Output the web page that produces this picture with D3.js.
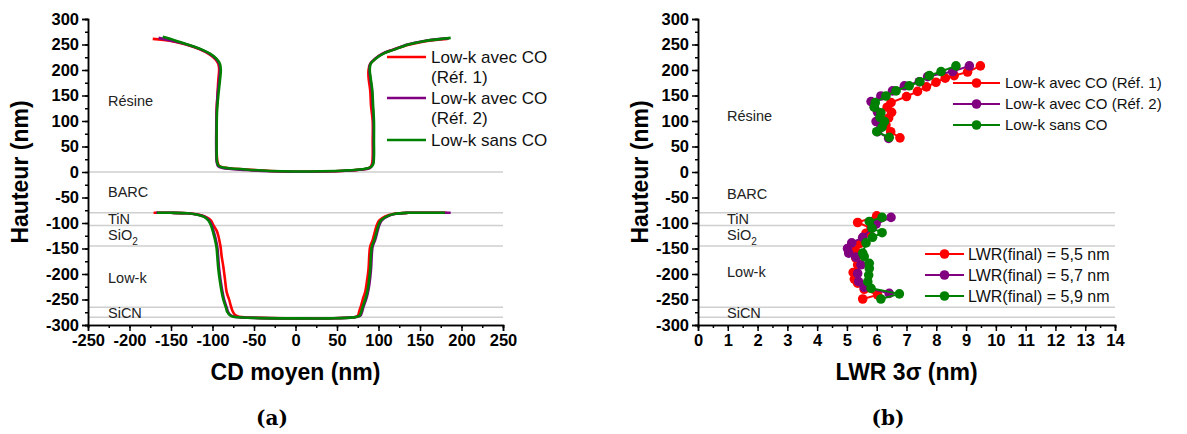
<!DOCTYPE html>
<html><head><meta charset="utf-8">
<script src="https://cdn.jsdelivr.net/npm/d3@7"></script>
<style>body{margin:0;background:#fff;} svg{display:block;}</style>
</head><body>
<svg id="c" width="1187" height="434"></svg>
<script>
// ---------- DATA ----------
const layerBounds = [0, -80, -105, -145, -265, -285];
const layerLabels = [
  {t:"Résine", h:140}, {t:"BARC", h:-40}, {t:"TiN", h:-92}, {t:"SiO", sub:"2", h:-124},
  {t:"Low-k", h:-208}, {t:"SiCN", h:-276}
];
const layerLabelsB = [
  {t:"Résine", h:110}, {t:"BARC", h:-43}, {t:"TiN", h:-92}, {t:"SiO", sub:"2", h:-124},
  {t:"Low-k", h:-195}, {t:"SiCN", h:-276}
];
const yTicks = d3.range(-300, 301, 50);
const xTicksA = d3.range(-250, 251, 50);
const xTicksB = d3.range(0, 15, 1);

const seriesNamesA = ["Low-k avec CO|(Réf. 1)", "Low-k avec CO|(Réf. 2)", "Low-k sans CO"];
const seriesNamesB1 = ["Low-k avec CO (Réf. 1)", "Low-k avec CO (Réf. 2)", "Low-k sans CO"];
const seriesNamesB2 = ["LWR(final) = 5,5 nm", "LWR(final) = 5,7 nm", "LWR(final) = 5,9 nm"];
const colors = ["#ff0000", "#800080", "#008000"];

// (a) CD profiles: [CD, height]
const redTop = [[-172,261],[-150,257],[-132,250],[-116,241],[-105,232],[-97,222],[-93,212],[-92,200],[-93,180],[-94,150],[-95,120],[-95,80],[-95,40],[-94,20],[-92,12],[-87,9],[-60,5],[-30,2],[0,0.5],[30,1],[60,2.5],[80,5],[89,8],[92,15],[93,30],[93,60],[93,100],[91,130],[90,160],[88,185],[88,200],[90,212],[96,222],[105,232],[118,240],[135,249],[155,256],[175,260],[183,261]];
const purpleTop = [[-165,263],[-148,257],[-131,250],[-115,241],[-104,232],[-96,222],[-92,212],[-91,200],[-92,180],[-94,150],[-95,120],[-95.5,80],[-95.5,40],[-95,20],[-93,11],[-88,8],[-60,4],[-30,1.5],[0,0.5],[30,1],[60,2.5],[80,5],[90,8],[93,15],[94,30],[94,60],[94,100],[93,130],[92,160],[90,185],[89,200],[90,212],[96,222],[105,232],[118,240],[135,250],[155,257],[175,261],[185,262]];
const greenTop = [[-160,265],[-145,258],[-130,250],[-114,241],[-103,232],[-95,222],[-91,212],[-90,200],[-91,180],[-93,150],[-94.5,120],[-95,80],[-95,40],[-94.5,20],[-92.5,12],[-87,9],[-60,5],[-30,2],[0,1],[30,1.5],[60,3],[80,5.5],[90,9],[93.5,15],[94.5,30],[94.5,60],[94.5,100],[93.5,130],[92.5,160],[90.5,185],[89.5,200],[90.5,212],[96.5,222],[106,232],[119,240],[136,250],[156,257],[176,261],[187,263]];

const redBot = [[-171,-80],[-150,-80],[-130,-81],[-116,-84],[-107,-89],[-102,-95],[-99,-104],[-95,-115],[-93,-125],[-91,-140],[-90,-150],[-89,-165],[-87,-185],[-85,-210],[-83,-235],[-80,-250],[-78,-262],[-76,-272],[-73,-280],[-68,-284],[-40,-286],[0,-287],[40,-287],[70,-285],[75,-282],[77,-272],[79,-262],[81,-250],[84,-235],[86,-215],[88,-190],[89,-160],[90,-146],[93,-133],[96,-115],[98,-104],[101,-95],[108,-87],[119,-82],[135,-80],[160,-80],[182,-80]];
const purpleBot = [[-168,-80],[-150,-80],[-130,-81],[-117,-84],[-109,-88],[-104,-95],[-101,-104],[-98,-120],[-95,-140],[-94,-150],[-93,-170],[-92,-190],[-90,-215],[-88,-235],[-86,-250],[-83,-265],[-81,-275],[-78,-281],[-74,-284],[-50,-286],[0,-287],[40,-287],[70,-285],[78,-282],[80,-275],[82,-264],[85,-250],[87,-238],[89,-220],[91,-190],[92,-160],[93,-146],[96,-133],[99,-115],[101,-104],[104,-95],[111,-87],[121,-82],[136,-80],[160,-80],[187,-80]];
const greenBot = [[-167,-80],[-150,-80],[-130,-81],[-118,-84],[-110,-88],[-105,-95],[-102,-104],[-99,-120],[-96,-140],[-95,-150],[-94,-170],[-93,-190],[-91,-215],[-89,-235],[-87,-250],[-84,-265],[-82,-275],[-79,-281],[-75,-284],[-50,-286],[0,-287],[40,-287],[70,-285],[77,-282],[79,-275],[81,-264],[84,-250],[86,-238],[88,-220],[90,-190],[91,-160],[92,-146],[95,-133],[98,-115],[100,-104],[103,-95],[110,-87],[120,-82],[135,-80],[160,-80],[180,-80]];

// (b) LWR 3σ: [LWR, height]
const redLWRTop = [[9.48,208],[9.05,196],[8.6,189],[8.3,184],[7.99,176],[7.67,167],[7.37,158],[7.0,148],[6.48,136],[6.35,127],[6.5,117],[6.4,106],[6.31,92],[6.47,79],[6.78,67]];
const purpleLWRTop = [[9.11,208],[8.55,197],[7.71,187],[7.43,177],[6.93,169],[6.53,159],[6.14,149],[5.81,138],[5.92,127],[6.03,117],[5.98,99],[6.14,88],[6.03,79],[6.4,66]];
const greenLWRTop = [[8.66,208],[8.16,197],[7.77,189],[7.45,177],[7.09,169],[6.65,159],[6.31,149],[5.95,136],[5.92,127],[6.14,116],[6.11,107],[6.26,99],[6.18,88],[6.0,79],[6.42,68]];
const redLWRBot = [[6.0,-86],[5.36,-99],[5.81,-110],[5.64,-120],[5.44,-140],[5.28,-153],[5.30,-169],[5.36,-182],[5.21,-197],[5.25,-210],[5.36,-218],[5.58,-230],[6.03,-241],[5.53,-249]];
const purpleLWRBot = [[6.48,-89],[5.98,-102],[5.84,-110],[5.53,-128],[5.16,-139],[5.02,-150],[5.06,-159],[5.30,-167],[5.47,-182],[5.36,-199],[5.39,-215],[5.58,-226],[6.42,-238]];
const greenLWRBot = [[6.18,-89],[5.75,-97],[5.84,-110],[6.18,-119],[5.86,-128],[5.64,-139],[5.53,-159],[5.58,-166],[5.75,-179],[5.75,-189],[5.73,-202],[5.70,-215],[5.81,-228],[6.76,-239],[6.14,-249]];

// ---------- DRAW ----------
const svg = d3.select("#c");
const FONT = "'Liberation Sans', Arial, sans-serif";
const yS = d3.scaleLinear().domain([-300,300]).range([325,19]);
const xA = d3.scaleLinear().domain([-250,250]).range([88,503]);
const xB = d3.scaleLinear().domain([0,14]).range([698,1115]);
const fmt = d => String(d);

function drawAxes(x, xTicks, xMinorStep, labels, xTitle, subLabel, labelX, yTitleX, capX) {
  const g = svg.append("g");
  g.selectAll("line.lay").data(labels.bounds).join("line")
    .attr("x1", x.range()[0]).attr("x2", x.range()[1])
    .attr("y1", d=>yS(d)).attr("y2", d=>yS(d))
    .attr("stroke", "#cfcfcf").attr("stroke-width", 1.5);
  labels.list.forEach(l => {
    const t = g.append("text").attr("x", labelX).attr("y", yS(l.h)).attr("dy","0.35em")
      .attr("font-family", FONT).attr("font-size", 14.5).attr("fill", "#222").text(l.t);
    if (l.sub) t.append("tspan").attr("font-size", 10).attr("dy", 5).text(l.sub);
  });
  const xd = x.domain();
  const minorX = d3.range(xd[0], xd[1] + 1e-9, xMinorStep);
  const ax = svg.append("g").attr("transform", `translate(0,325)`);
  ax.call(d3.axisBottom(x).tickValues(minorX).tickSize(3).tickFormat(""));
  ax.append("g").call(d3.axisBottom(x).tickValues(xTicks).tickSize(6).tickPadding(3).tickFormat(fmt));
  const ay = svg.append("g").attr("transform", `translate(${x.range()[0]},0)`);
  ay.call(d3.axisLeft(yS).tickValues(d3.range(-300, 301, 25)).tickSize(3).tickFormat(""));
  ay.append("g").call(d3.axisLeft(yS).tickValues(yTicks).tickSize(6).tickPadding(3).tickFormat(fmt));
  [ax, ay].forEach(a => {
    a.selectAll("path.domain").attr("stroke", "#000").attr("stroke-width", 1.5);
    a.selectAll("line").attr("stroke", "#000").attr("stroke-width", 1.5);
    a.selectAll("text").attr("font-family", FONT).attr("font-weight", "bold").attr("font-size", 16.5).attr("fill", "#000");
  });
  svg.append("text").attr("transform", `translate(${yTitleX},172) rotate(-90)`).attr("text-anchor","middle")
    .attr("dy","0.35em").attr("font-family", FONT).attr("font-weight","bold").attr("font-size", 23).text("Hauteur (nm)");
  const xt = svg.append("text").attr("x", (x.range()[0]+x.range()[1])/2).attr("y", 372).attr("dy","0.35em")
    .attr("text-anchor","middle").attr("font-family", FONT).attr("font-weight","bold").attr("font-size", 23);
  xTitle(xt);
  svg.append("text").attr("x", capX).attr("y", 418).attr("dy","0.35em").attr("text-anchor","middle")
    .attr("font-family","'DejaVu Serif', serif").attr("font-weight","bold").attr("font-size", 20).text(subLabel);
}

drawAxes(xA, xTicksA, 25, {bounds: layerBounds, list: layerLabels}, t => t.text("CD moyen (nm)"), "(a)", 108, 20, 272);
drawAxes(xB, xTicksB, 0.5, {bounds: layerBounds.slice(1), list: layerLabelsB}, t => t.text("LWR 3σ (nm)"), "(b)", 727, 640, 888);

// (a) profiles
const profiles = [[redTop, redBot], [purpleTop, purpleBot], [greenTop, greenBot]];
const lineA = d3.line().x(d=>xA(d[0])).y(d=>yS(d[1])).curve(d3.curveCatmullRom.alpha(0.5));
profiles.forEach((p, i) => {
  p.forEach(seg => {
    svg.append("path").datum(seg).attr("d", lineA)
      .attr("fill","none").attr("stroke", colors[i]).attr("stroke-width", 2.6).attr("stroke-linejoin","round");
  });
});
// (a) legend
seriesNamesA.forEach((n, i) => {
  const y0 = [57, 98, 140][i];
  svg.append("line").attr("x1", 387).attr("x2", 426).attr("y1", y0).attr("y2", y0)
    .attr("stroke", colors[i]).attr("stroke-width", 2.6);
  n.split("|").forEach((part, k) => {
    svg.append("text").attr("x", 431).attr("y", y0 + k*20.5).attr("dy","0.35em")
      .attr("font-family", FONT).attr("font-size", 17).attr("fill", "#111").text(part);
  });
});

// (b) LWR series
const lineB = d3.line().x(d=>xB(d[0])).y(d=>yS(d[1]));
const lwr = [[redLWRTop, redLWRBot], [purpleLWRTop, purpleLWRBot], [greenLWRTop, greenLWRBot]];
lwr.forEach((p, i) => {
  p.forEach(seg => {
    svg.append("path").datum(seg).attr("d", lineB).attr("fill","none").attr("stroke", colors[i]).attr("stroke-width", 2);
    svg.append("g").selectAll("circle").data(seg).join("circle")
      .attr("cx", d=>xB(d[0])).attr("cy", d=>yS(d[1])).attr("r", 4.8).attr("fill", colors[i]);
  });
});
// (b) legends
function legendB(names, ys, x1, x2, tx, fs) {
  names.forEach((n, i) => {
    svg.append("line").attr("x1", x1).attr("x2", x2).attr("y1", ys[i]).attr("y2", ys[i])
      .attr("stroke", colors[i]).attr("stroke-width", 2);
    svg.append("circle").attr("cx", (x1+x2)/2).attr("cy", ys[i]).attr("r", 4.8).attr("fill", colors[i]);
    svg.append("text").attr("x", tx).attr("y", ys[i]).attr("dy","0.35em")
      .attr("font-family", FONT).attr("font-size", fs).attr("fill", "#111").text(n);
  });
}
legendB(seriesNamesB1, [83, 104, 125], 953, 1000, 1005, 15);
legendB(seriesNamesB2, [254, 275, 296], 925, 964, 968, 16);
</script>
</body></html>
